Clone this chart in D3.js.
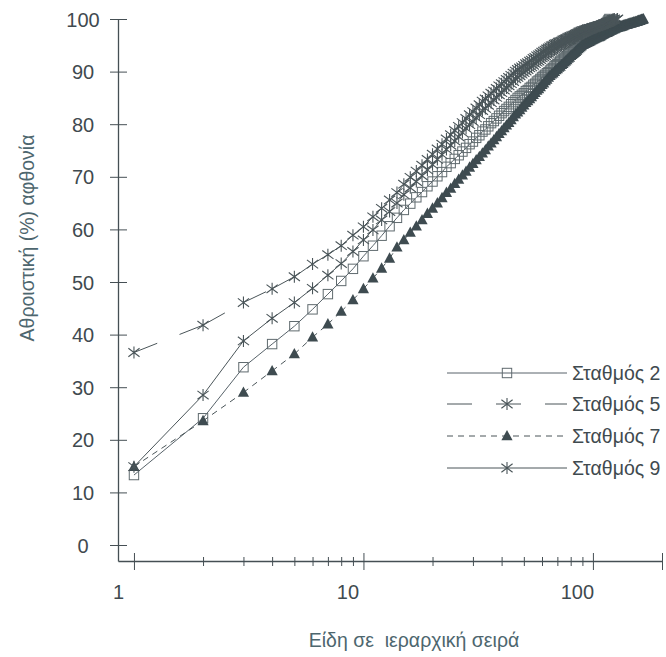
<!DOCTYPE html>
<html>
<head>
<meta charset="utf-8">
<script src="https://cdn.jsdelivr.net/npm/d3@7"></script>
<style>
  body { margin: 0; background: #fff; }
  svg { display: block; }
  text { font-family: "Liberation Sans", Arial, sans-serif; }
</style>
</head>
<body>
<script>
// Cumulative % abundance per species rank (rank = index + 1)
const station2 = [13.3,24.1,33.8,38.2,41.6,44.8,47.7,50.2,52.5,54.9,56.9,58.8,60.6,62.2,
  63.7,64.9,66.1,67.1,68.2,69.1,70.1,70.9,71.9,72.6,73.4,74.1,74.8,75.5,76.2,76.7,77.4,77.9,78.6,
  79.0,79.6,80.2,80.6,81.1,81.6,82.1,82.5,82.9,83.3,83.8,84.2,84.6,85.0,85.3,85.6,85.9,86.3,86.5,
  86.9,87.1,87.5,87.7,88.1,88.3,88.6,88.9,89.2,89.4,89.7,89.9,90.2,90.5,90.7,91.0,91.2,91.4,91.7,
  91.9,92.1,92.3,92.5,92.7,92.9,93.2,93.4,93.6,93.7,93.9,94.1,94.3,94.4,94.6,94.9,95.0,95.2,95.3,
  95.4,95.6,95.7,95.9,96.1,96.2,96.4,96.5,96.7,96.9,97.0,97.2,97.3,97.5,97.6,97.8,97.9,98.1,98.2,
  98.4,98.5,98.7,98.9,99.1,99.3,99.5,99.8,100];

const station5 = [36.6,41.8,46.1,48.7,51.0,53.4,55.2,56.9,58.9,60.5,62.4,64.0,65.6,67.0,
  68.6,69.9,71.1,72.2,73.3,74.3,75.3,76.2,77.2,78.0,78.8,79.6,80.3,81.1,81.8,82.4,83.1,83.7,84.4,
  84.8,85.4,85.9,86.3,86.8,87.3,87.7,88.1,88.5,88.9,89.3,89.7,90.1,90.4,90.7,90.9,91.2,91.5,91.7,
  92.0,92.2,92.5,92.7,93.0,93.2,93.4,93.7,93.9,94.1,94.3,94.5,94.7,94.9,95.0,95.2,95.3,95.4,95.6,
  95.7,95.8,96.0,96.1,96.2,96.3,96.5,96.6,96.7,96.8,96.9,97.0,97.1,97.2,97.3,97.5,97.6,97.7,97.8,
  97.8,97.9,97.9,98.0,98.1,98.1,98.2,98.2,98.3,98.4,98.4,98.5,98.5,98.6,98.6,98.7,98.7,98.8,98.8,
  98.9,98.9,99.0,99.0,99.1,99.1,99.2,99.2,99.3,99.3,99.4,99.5,99.5,99.6,99.7,99.7,99.8,99.9,100];

const station7 = [14.9,23.6,29.0,33.1,36.3,39.5,42.0,44.4,46.6,48.7,50.7,52.6,54.5,56.6,
  58.0,59.4,60.6,61.8,63.0,64.0,65.0,66.0,67.0,67.8,68.7,69.5,70.3,71.0,71.8,72.5,73.2,73.8,74.5,
  75.1,75.8,76.4,77.0,77.6,78.2,78.7,79.3,79.8,80.3,80.8,81.4,81.9,82.3,82.7,83.2,83.6,84.1,84.4,
  84.8,85.2,85.6,86.0,86.4,86.7,87.1,87.5,87.8,88.2,88.5,88.9,89.2,89.5,89.7,90.0,90.3,90.5,90.8,
  91.0,91.3,91.5,91.8,92.0,92.2,92.5,92.7,93.0,93.2,93.4,93.6,93.8,94.0,94.3,94.5,94.7,94.9,95.1,
  95.2,95.3,95.4,95.5,95.6,95.7,95.8,95.9,96.0,96.1,96.2,96.3,96.4,96.5,96.6,96.6,96.7,96.8,96.9,
  97.0,97.1,97.2,97.3,97.4,97.4,97.5,97.6,97.7,97.8,97.8,97.9,98.0,98.1,98.1,98.2,98.3,98.35,98.4,
  98.5,98.5,98.5,98.6,98.6,98.7,98.7,98.8,98.8,98.9,98.9,98.9,99.0,99.0,99.1,99.1,99.2,99.2,99.2,
  99.3,99.3,99.4,99.4,99.4,99.5,99.5,99.5,99.6,99.6,99.7,99.7,99.7,99.8,99.8,99.9,99.9,99.9,100];

const station9 = [14.9,28.5,38.8,43.1,46.1,48.8,51.3,53.5,55.8,58.0,59.9,61.8,63.4,65.0,
  66.6,67.9,69.1,70.2,71.3,72.3,73.3,74.2,75.2,76.0,76.8,77.6,78.4,79.2,79.9,80.5,81.2,81.8,82.6,
  83.0,83.6,84.1,84.6,85.1,85.6,86.0,86.5,86.9,87.3,87.7,88.1,88.6,88.9,89.2,89.5,89.8,90.1,90.4,
  90.7,90.9,91.2,91.5,91.8,92.0,92.3,92.6,92.8,93.0,93.3,93.5,93.7,93.9,94.1,94.3,94.5,94.6,94.8,
  95.0,95.1,95.3,95.4,95.6,95.7,95.9,96.0,96.1,96.3,96.4,96.5,96.7,96.8,96.9,97.1,97.2,97.3,97.4,
  97.5,97.6,97.7,97.8,97.9,98.0,98.0,98.1,98.2,98.3,98.3,98.4,98.5,98.5,98.6,98.7,98.7,98.8,98.9,
  98.9,99.0,99.1,99.1,99.2,99.3,99.3,99.4,99.5,99.6,99.7,99.8,99.9,99.9,100];

const seriesNames = ["Σταθμός 2", "Σταθμός 5", "Σταθμός 7", "Σταθμός 9"];
const xMajorTicks = [1, 10, 100];
const xMinorTicks = [2,3,4,5,6,7,8,9,20,30,40,50,60,70,80,90,200];
const yTicks = [0,10,20,30,40,50,60,70,80,90,100];
const yTitle = "Αθροιστική (%) αφθονία";
const xTitle = "Είδη σε  ιεραρχική σειρά";

const W = 666, H = 657;
const ink = "#454f54";
const textInk = "#3f4a4f";
const titleInk = "#4d666e";

const svg = d3.select("body").append("svg").attr("width", W).attr("height", H);

const x = d3.scaleLog().domain([0.852, 200]).range([118, 662]);
const y = d3.scaleLinear().domain([-3.04, 100]).range([561, 19]);

// ---- axes ----
const xAxis = svg.append("g").attr("transform", `translate(0,${y.range()[0]})`)
  .call(d3.axisBottom(x).tickValues(xMajorTicks.concat(xMinorTicks))
    .tickFormat(d => xMajorTicks.includes(d) ? d3.format("d")(d) : "")
    .tickSizeOuter(0));
xAxis.select(".domain").attr("stroke", ink).attr("stroke-width", 1.3);
xAxis.selectAll(".tick line")
  .attr("stroke", ink).attr("stroke-width", 1)
  .attr("y1", d => xMajorTicks.includes(d) || d === 200 ? -8 : -4)
  .attr("y2", d => xMajorTicks.includes(d) || d === 200 ? 9 : 5);
xAxis.selectAll(".tick text")
  .attr("fill", textInk).attr("font-size", 20)
  .attr("dx", -16).attr("y", 31).attr("dy", "0.35em");

const yAxis = svg.append("g").attr("transform", `translate(${x.range()[0]},0)`)
  .call(d3.axisLeft(y).tickValues(yTicks).tickSizeOuter(0));
yAxis.select(".domain").attr("stroke", ink).attr("stroke-width", 1.3);
yAxis.selectAll(".tick line").attr("stroke", ink).attr("stroke-width", 1)
  .attr("x1", -8).attr("x2", 9);
yAxis.selectAll(".tick text")
  .attr("fill", textInk).attr("font-size", 20)
  .attr("x", -35).attr("text-anchor", "middle").attr("dy", "0.35em");
svg.selectAll(".tick text").attr("font-family", null);

// ---- titles ----
svg.append("text")
  .attr("transform", "translate(27,238) rotate(-90)")
  .attr("text-anchor", "middle").attr("dy", "0.35em")
  .attr("fill", titleInk).attr("font-size", 19.5)
  .text(yTitle);
svg.append("text")
  .attr("x", 414).attr("y", 640)
  .attr("text-anchor", "middle").attr("dy", "0.35em")
  .attr("fill", titleInk).attr("font-size", 19.5)
  .style("white-space", "pre")
  .text(xTitle);

// ---- marker shapes ----
function squareMarker(g) {
  g.append("rect").attr("x", -4.7).attr("y", -4.7).attr("width", 9.4).attr("height", 9.4)
    .attr("fill", "none").attr("stroke", "#5f6a6e").attr("stroke-width", 1);
}
function starMarker(g) {
  g.append("path").attr("d", "M0,-6V6M-5.6,-4.2L5.6,4.2M-5.6,4.2L5.6,-4.2")
    .attr("fill", "none").attr("stroke", "#4a5559").attr("stroke-width", 1.1);
}
function triangleMarker(g) {
  g.append("path").attr("d", "M0,-6L5.6,4.3L-5.6,4.3Z").attr("fill", "#3e4b50");
}

const series = [
  { name: seriesNames[0], values: station2, dash: null, marker: squareMarker, stroke: "#58636a" },
  { name: seriesNames[1], values: station5, dash: "25,24", marker: starMarker, stroke: "#4a5559" },
  { name: seriesNames[2], values: station7, dash: "6,5", marker: triangleMarker, stroke: "#4a5559" },
  { name: seriesNames[3], values: station9, dash: null, marker: starMarker, stroke: "#4a5559" }
];

const line = d3.line().x(d => x(d.r)).y(d => y(d.v));

series.forEach(s => {
  const pts = s.values.map((v, i) => ({ r: i + 1, v }));
  const g = svg.append("g");
  if (s.dash) {
    // dashed series: each segment restarts its dash pattern at the point
    g.selectAll("line.seg").data(d3.pairs(pts)).join("line").attr("class", "seg")
      .attr("x1", d => x(d[0].r)).attr("y1", d => y(d[0].v))
      .attr("x2", d => x(d[1].r)).attr("y2", d => y(d[1].v))
      .attr("stroke", s.stroke).attr("stroke-width", 1)
      .attr("stroke-dasharray", s.dash);
  } else {
    g.append("path").datum(pts).attr("d", line)
      .attr("fill", "none").attr("stroke", s.stroke).attr("stroke-width", 1);
  }
  g.selectAll("g.m").data(pts).join("g").attr("class", "m")
    .attr("transform", d => `translate(${x(d.r)},${y(d.v)})`)
    .each(function () { s.marker(d3.select(this)); });
});

// ---- legend ----
const legend = svg.append("g");
const legendRows = [373, 404, 436, 468];
series.forEach((s, i) => {
  const row = legend.append("g").attr("transform", `translate(0,${legendRows[i]})`);
  row.append("line").attr("x1", 447).attr("x2", 567).attr("y1", 0).attr("y2", 0)
    .attr("stroke", s.stroke).attr("stroke-width", 1).attr("stroke-dasharray", s.dash);
  const m = row.append("g").attr("transform", "translate(507,0)");
  s.marker(m);
  row.append("text").attr("x", 572).attr("y", 0).attr("dy", "0.35em")
    .attr("fill", textInk).attr("font-size", 19.5).text(s.name);
});
</script>
</body>
</html>
